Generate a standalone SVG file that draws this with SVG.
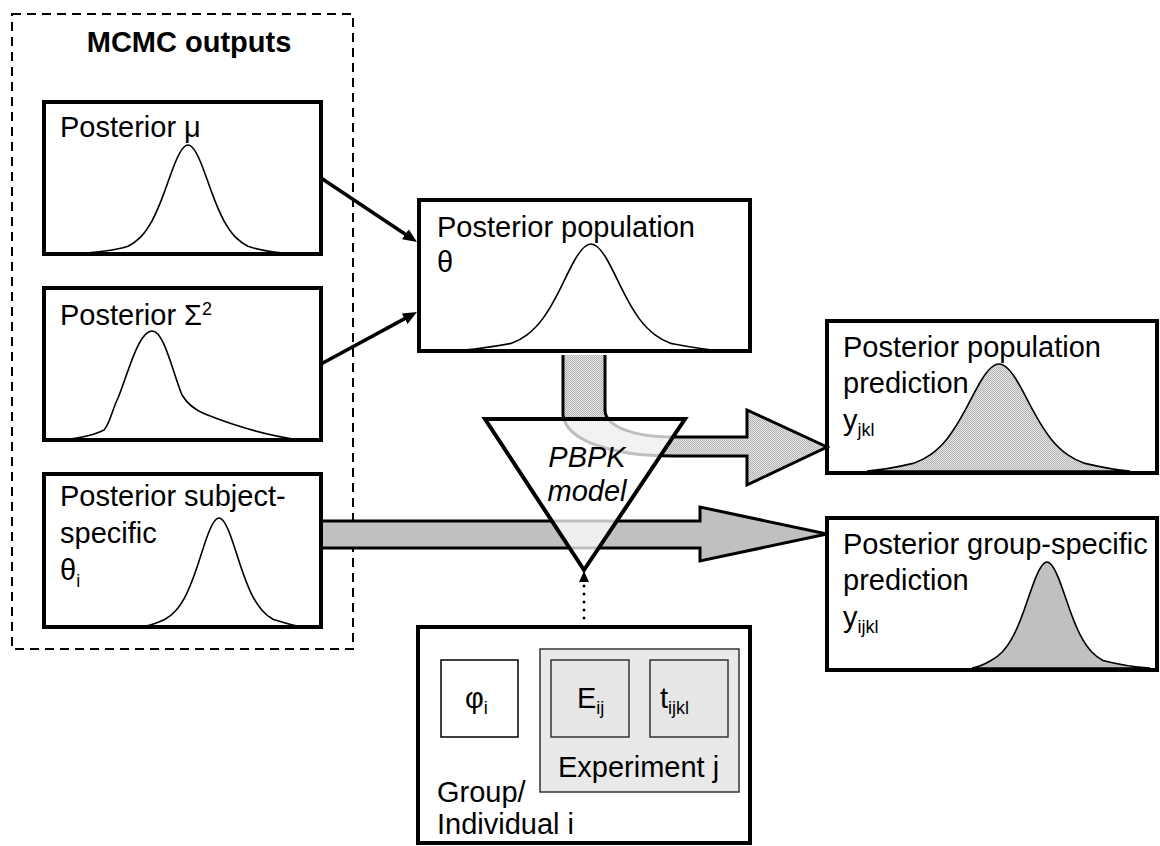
<svg xmlns="http://www.w3.org/2000/svg" width="1160" height="846" viewBox="0 0 1160 846">
<defs>
<style>
.t{font-family:"Liberation Sans",Arial,sans-serif;font-size:29px;fill:#000}
.b{font-weight:bold}
.it{font-style:italic}
.sub{font-size:18px}
.box{fill:#fff;stroke:#000;stroke-width:4}
.crv{fill:none;stroke:#000;stroke-width:1.6}
.thin{stroke:#000;stroke-width:3.5;fill:none}
</style>
<pattern id="tex" width="2" height="2" patternUnits="userSpaceOnUse">
<rect width="2" height="2" fill="#e4e4e4"/>
<rect width="1" height="1" fill="#b4b4b4"/>
<rect x="1" y="1" width="1" height="1" fill="#b4b4b4"/>
</pattern>
<marker id="ah" viewBox="0 0 14 12" markerWidth="14" markerHeight="12" refX="8" refY="6" orient="auto" markerUnits="userSpaceOnUse">
<path d="M0,0 L14,6 L0,12 Z" fill="#000"/>
</marker>
</defs>
<rect width="1160" height="846" fill="#fff"/>

<g id="mcmc-outputs">
<rect x="12" y="14" width="341" height="635" fill="none" stroke="#000" stroke-width="2" stroke-dasharray="9 6"/>
<text class="t b" x="189" y="52" text-anchor="middle">MCMC outputs</text>
</g>

<g id="posterior-mu">
<rect class="box" x="44" y="102" width="277" height="152"/>
<text class="t" x="60" y="137">Posterior μ</text>
<path class="crv" d="M63,254 C95,253 118,249.8 128,246.3 C132,244.3 136,241.6 140,237.6 C144,233.6 148,228.2 152,220.8 C156,213.4 160,203.9 164,193.1 C168,182.3 172,170.2 176,160.8 C180,151.4 184,145 188,145 C192,145 196,151.4 200,160.8 C204,170.2 208,182.3 212,193.1 C216,203.9 220,213.4 224,220.8 C228,228.2 232,233.6 236,237.6 C240,241.6 244,244.3 248,246.3 C258,249.8 275,253 295,254"/>
</g>

<g id="posterior-sigma">
<rect class="box" x="44" y="288" width="277" height="152"/>
<text class="t" x="60" y="325">Posterior Σ<tspan class="sub" dy="-10">2</tspan></text>
<path class="crv" d="M63,440 C80,438 95,435 104,430 C110,424 112,410 118,398 C127,377 138,331 152,331 C164,331 172,370 182,395 C188,405 195,410 205,414 C235,426 270,436 300,440"/>
</g>

<g id="posterior-subject">
<rect class="box" x="44" y="474" width="277" height="153"/>
<text class="t" x="60" y="506">Posterior subject-</text>
<text class="t" x="60" y="543">specific</text>
<text class="t" x="60" y="580">θ<tspan class="sub" dy="7">i</tspan></text>
<path class="crv" d="M140,627 C150,626.3 157,623 165,619.3 C168.6,617.3 172.2,614.6 175.8,610.5 C179.4,606.5 183,601.1 186.6,593.8 C190.2,586.4 193.8,576.9 197.4,566.1 C201,555.3 204.6,543.2 208.2,533.8 C211.8,524.4 215.4,518 219,518 C222.6,518 226.2,524.4 229.8,533.8 C233.4,543.2 237,555.3 240.6,566.1 C244.2,576.9 247.8,586.4 251.4,593.8 C255,601.1 258.6,606.5 262.2,610.5 C265.8,614.6 269.4,617.3 273,619.3 C283,622.5 293,626 303,627"/>
</g>

<g id="posterior-population">
<rect class="box" x="419" y="200" width="331" height="151"/>
<text class="t" x="437" y="237">Posterior population</text>
<text class="t" x="437" y="272">θ</text>
<path class="crv" d="M450,351 C470,350 492,347 511,343.4 C516.3,341.5 521.7,338.8 527,334.8 C532.3,330.9 537.7,325.6 543,318.4 C548.3,311.1 553.7,301.8 559,291.2 C564.3,280.6 569.7,268.8 575,259.5 C580.3,250.3 585.7,244 591,244 C596.3,244 601.7,250.3 607,259.5 C612.3,268.8 617.7,280.6 623,291.2 C628.3,301.8 633.7,311.1 639,318.4 C644.3,325.6 649.7,330.9 655,334.8 C660.3,338.8 665.7,341.5 671,343.4 C690,347 705,350 725,351"/>
</g>

<g id="population-prediction">
<rect class="box" x="827" y="321" width="330" height="152"/>
<path d="M867,471 C882,470 898,467 913,463.4 C918.7,461.5 924.5,458.8 930.2,454.8 C935.9,450.9 941.7,445.6 947.4,438.4 C953.1,431.1 958.9,421.8 964.6,411.2 C970.3,400.6 976.1,388.8 981.8,379.5 C987.5,370.3 993.3,364 999,364 C1004.7,364 1010.5,370.3 1016.2,379.5 C1021.9,388.8 1027.7,400.6 1033.4,411.2 C1039.1,421.8 1044.9,431.1 1050.6,438.4 C1056.3,445.6 1062.1,450.9 1067.8,454.8 C1073.5,458.8 1079.3,461.5 1085,463.4 C1100,467 1115,470 1130,471 Z" fill="url(#tex)" stroke="#000" stroke-width="1.6"/>
<text class="t" x="843" y="357">Posterior population</text>
<text class="t" x="843" y="393">prediction</text>
<text class="t" x="843" y="430">y<tspan class="sub" dy="6">jkl</tspan></text>
</g>

<g id="group-prediction">
<rect class="box" x="827" y="518" width="330" height="152"/>
<path d="M972,668 C979,667 985,664 991,660.5 C994.7,658.6 998.5,655.9 1002.2,652 C1005.9,648.1 1009.7,642.9 1013.4,635.7 C1017.1,628.5 1020.9,619.2 1024.6,608.7 C1028.3,598.3 1032.1,586.5 1035.8,577.4 C1039.5,568.2 1043.3,562 1047,562 C1050.7,562 1054.5,568.2 1058.2,577.4 C1061.9,586.5 1065.7,598.3 1069.4,608.7 C1073.1,619.2 1076.9,628.5 1080.6,635.7 C1084.3,642.9 1088.1,648.1 1091.8,652 C1095.5,655.9 1099.3,658.6 1103,660.5 C1118,664.5 1133,667 1150,668 Z" fill="#c0c0c0" stroke="#000" stroke-width="1.6"/>
<text class="t" x="843" y="554">Posterior group-specific</text>
<text class="t" x="843" y="590">prediction</text>
<text class="t" x="843" y="627">y<tspan class="sub" dy="6">ijkl</tspan></text>
</g>

<g id="group-individual">
<rect class="box" x="418" y="627" width="332" height="216"/>
<rect x="441" y="660" width="77" height="77" fill="#fff" stroke="#000" stroke-width="1.5"/>
<text class="t" x="465" y="708">φ<tspan class="sub" dy="6">i</tspan></text>
<rect x="540" y="649" width="199" height="143" fill="#e9e9e9" stroke="#333" stroke-width="1.5"/>
<rect x="551" y="660" width="78" height="77" fill="#e6e6e6" stroke="#333" stroke-width="1.5"/>
<text class="t" x="577" y="708">E<tspan class="sub" dy="6">ij</tspan></text>
<rect x="650" y="660" width="78" height="77" fill="#e6e6e6" stroke="#333" stroke-width="1.5"/>
<text class="t" x="660" y="708">t<tspan class="sub" dy="6">ijkl</tspan></text>
<text class="t" x="558" y="777">Experiment j</text>
<text class="t" x="437" y="802">Group/</text>
<text class="t" x="437" y="834">Individual i</text>
</g>

<g id="connectors">
<line class="thin" x1="321" y1="178" x2="412" y2="238.7" marker-end="url(#ah)"/>
<line class="thin" x1="321" y1="364" x2="411.7" y2="314.9" marker-end="url(#ah)"/>
<path d="M563,355 L563,415 C566,440 610,456 673,456 L747,456 L747,485 L827,447 L747,410 L747,437 L673,437 C630,437 605,425 605,410 L605,355" fill="url(#tex)" stroke="#000" stroke-width="3"/>
<path d="M323,521 L700,521 L700,507 L827,534 L700,561 L700,548 L323,548" fill="#c0c0c0" stroke="#000" stroke-width="3"/>
<line x1="584" y1="586" x2="584" y2="624" stroke="#000" stroke-width="3" stroke-linecap="round" stroke-dasharray="0 8"/>
<polygon points="584,571 579,582 589,582" fill="#000"/>
</g>

<g id="pbpk-model">
<polygon points="485,419 685,419 584,570" fill="#fff" fill-opacity="0.75" stroke="#000" stroke-width="4" stroke-linejoin="miter"/>
<text class="t it" x="587" y="467" text-anchor="middle">PBPK</text>
<text class="t it" x="587" y="501" text-anchor="middle">model</text>
</g>
</svg>
